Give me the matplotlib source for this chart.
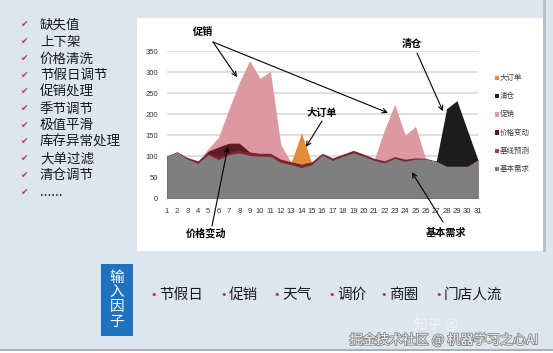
import numpy as np
import matplotlib.pyplot as plt
from matplotlib.patches import Rectangle
import matplotlib.patheffects as pe

plt.rcParams['font.family'] = ['Noto Sans CJK SC', 'DejaVu Sans']

W, H = 553, 353

# ---- data ----
days = np.arange(1, 32)
base_demand = [100, 110, 93, 83, 104, 92, 104, 108, 102, 100, 100, 85, 80, 73, 80, 103,
               90, 100, 108, 100, 90, 84, 95, 88, 93, 93, 88, 76, 76, 76, 91]
baseline = [100, 110, 97, 89, 108, 98, 110, 114, 110, 107, 107, 93, 87, 81, 87, 107,
            96, 105, 114, 105, 95, 89, 99, 93, 96, 95, 88, 76, 76, 76, 91]
price_days = [4, 5, 6, 7, 8, 9]
price_vals = [86, 112, 122, 131, 131, 110]
promo_days = [4, 5, 6, 7, 8, 9, 10, 11, 12, 13, 21, 22, 23, 24, 25, 26]
promo_vals = [88, 118, 145, 212, 275, 327, 285, 302, 128, 85, 91, 162, 224, 150, 171, 93]
order_days = [13, 14, 15]
order_vals = [85, 155, 83]
clear_days = [27, 28, 29, 30, 31]
clear_vals = [88, 213, 232, 162, 93]

checklist = ['缺失值', '上下架', '价格清洗', '节假日调节', '促销处理', '季节调节',
             '极值平滑', '库存异常处理', '大单过滤', '清仓调节', '......']
factors = ['节假日', '促销', '天气', '调价', '商圈', '门店人流']
factor_x = [154, 224, 277, 332, 384, 439]

legend_names = ['大订单', '清仓', '促销', '价格变动', '基线预测', '基本需求']
legend_colors = ['#e38b3a', '#1c1c1c', '#dc9aa0', '#5a1a24', '#a8404c', '#7f7f7f']


def fx(px):
    return px / W


def fy(py):
    return 1 - py / H


def layer(d, v):
    arr = np.array(base_demand, dtype=float)
    arr[np.array(d) - 1] = v
    return np.maximum(arr, base_demand)


fig = plt.figure(figsize=(W / 100, H / 100), dpi=100, facecolor='#dde5ef')

# white panel behind the chart
bg = [((137, 251), 406, 233, 'white'),
      ((543, 252), 3, 252, '#b9c0ca'),
      ((0, 351), W, 2, '#a9b0ba'),
      ((0, H), W, 2, 'white')]
for (x0, y0), w, h, c in bg:
    fig.patches.append(Rectangle((fx(x0), fy(y0)), w / W, h / H, transform=fig.transFigure,
                                 facecolor=c, edgecolor='none', zorder=-5))

ax = fig.add_axes([fx(166.7), fy(198.3), fx(477.7) - fx(166.7), fy(51) - fy(198.3)])
ax.set_zorder(3)
ax.set_facecolor('none')

ax.fill_between(days, 0, layer(promo_days, promo_vals), color='#dc9aa0', lw=0, zorder=2)
ax.fill_between(days, 0, layer(order_days, order_vals), color='#e38b3a', lw=0, zorder=2)
ax.fill_between(days, 0, layer(clear_days, clear_vals), color='#1c1c1c', lw=0, zorder=2)
ax.fill_between(days, 0, layer(price_days, price_vals), color='#5e1b25', lw=0, zorder=3)
ax.fill_between(days, 0, baseline, color='#7e262d', lw=0, zorder=3)
ax.fill_between(days, 0, base_demand, color='#7f7f7f', lw=0, zorder=4)

ax.set_xlim(1, 31)
ax.set_ylim(0, 350)
ax.set_yticks(range(0, 351, 50))
ax.set_xticks(days)
ax.set_xticklabels([str(d) for d in days], family='Liberation Sans')
ax.set_yticklabels([str(v) for v in range(0, 351, 50)], family='Liberation Sans')
ax.tick_params(length=0, labelsize=5.5, colors='#333333')
ax.tick_params(axis='x', pad=7)
ax.tick_params(axis='y', pad=6)
ax.grid(axis='y', color='#d4d4d4', lw=1.1, zorder=1)
ax.set_axisbelow(True)
for s in ax.spines.values():
    s.set_visible(False)

# annotations
bold = dict(fontsize=7.3, fontweight='bold', ha='center', va='center', color='black')
fig.text(fx(203), fy(32), '促销', **bold)
fig.text(fx(322), fy(113), '大订单', **bold)
fig.text(fx(206), fy(233), '价格变动', **bold)
fig.text(fx(412), fy(44), '清仓', **bold)
fig.text(fx(446), fy(233), '基本需求', **bold)

arrows = [((7.78, 288), (213, 42)), ((22.34, 203), (213, 42)), ((14.43, 122), (322, 121)),
          ((6.9, 122), (212, 226)), ((27.65, 207), (417, 53)), ((24.65, 62), (443, 222))]
for head, tail in arrows:
    ax.annotate('', xy=head, xycoords='data', xytext=(fx(tail[0]), fy(tail[1])),
                textcoords='figure fraction', annotation_clip=False, zorder=6,
                arrowprops=dict(arrowstyle='->', lw=0.8, color='black', mutation_scale=8,
                                shrinkA=0, shrinkB=0))

# legend
for i, (name, col) in enumerate(zip(legend_names, legend_colors)):
    yy = 78 + i * 18.2
    fig.patches.append(Rectangle((fx(494.5), fy(yy + 2.2)), 4.4 / W, 4.4 / H,
                                 transform=fig.transFigure, facecolor=col, edgecolor='none'))
    fig.text(fx(500), fy(yy), name, fontsize=5.4, color='#404040', ha='left', va='center')

# left checklist
for i, item in enumerate(checklist):
    yy = 25 + i * 16.7
    fig.text(fx(25), fy(yy), '✔', fontsize=6.5, color='#b8394a', ha='center', va='center',
             family='DejaVu Sans')
    fig.text(fx(40), fy(yy), item, fontsize=9.7, color='#1a1a1a', ha='left', va='center')

# input factors
fig.patches.append(Rectangle((fx(101), fy(336)), 32 / W, 72 / H,
                             transform=fig.transFigure, facecolor='#1f72bd', edgecolor='none'))
fig.text(fx(117), fy(300), '输\n入\n因\n子', fontsize=10.5, color='white', ha='center',
         va='center', linespacing=1.05)
for name, x0 in zip(factors, factor_x):
    fig.text(fx(x0), fy(295), '•', fontsize=8, color='#c0392b', ha='center', va='center',
             family='DejaVu Sans')
    fig.text(fx(x0 + 5), fy(295), name, fontsize=10.5, color='#1a1a1a', ha='left', va='center')

# watermark
fig.text(fx(414), fy(326), '知乎 @', fontsize=10, color='white', alpha=0.6, ha='left', va='center')
fig.text(fx(539), fy(340), '掘金技术社区 @ 机器学习之心AI', fontsize=9.5, color='#f2f2f2',
         ha='right', va='center',
         path_effects=[pe.withStroke(linewidth=1.3, foreground='#8a8a8a')])

fig.savefig('out.png', dpi=100, facecolor=fig.get_facecolor())
